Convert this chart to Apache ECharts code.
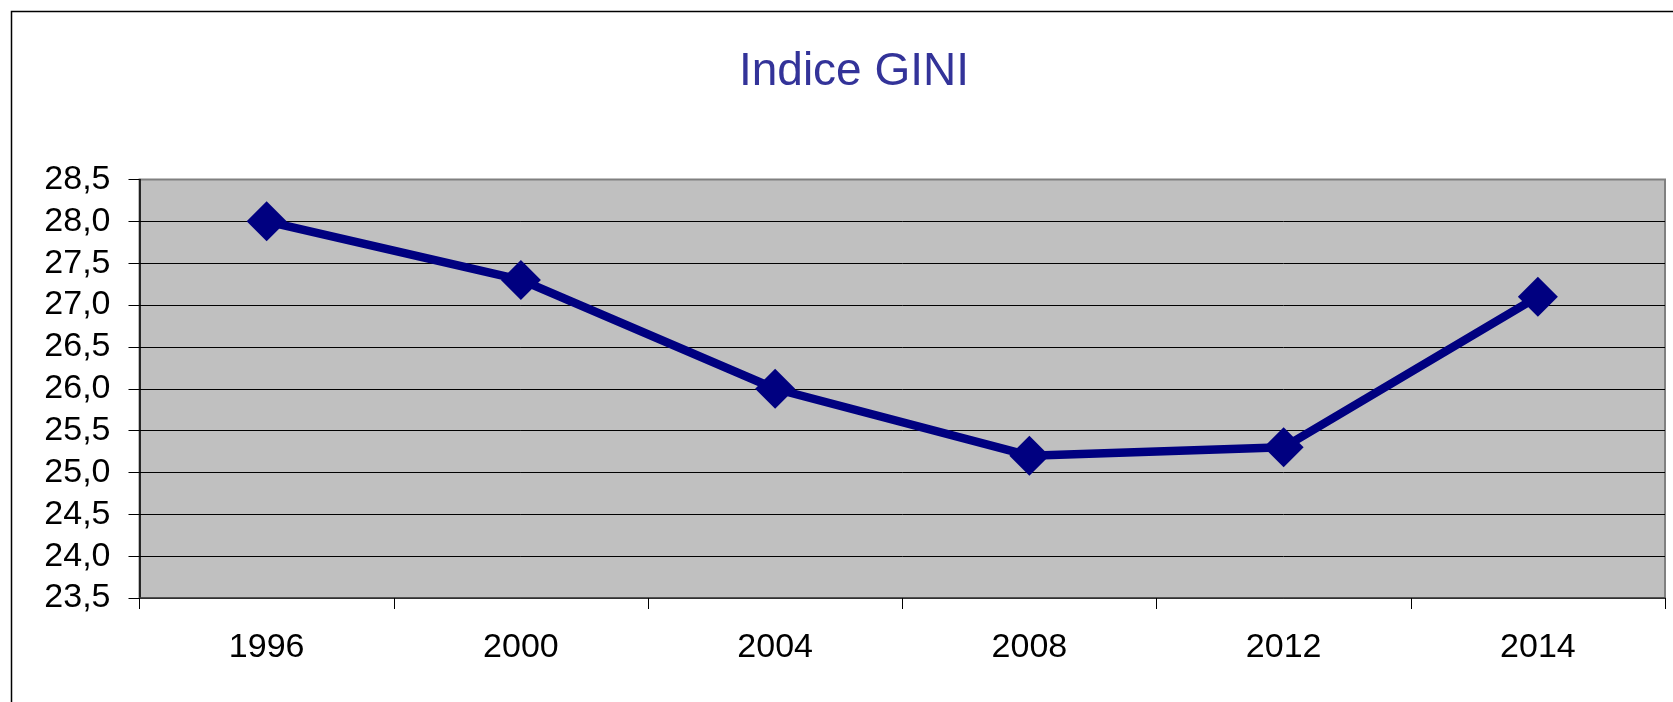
<!DOCTYPE html>
<html>
<head>
<meta charset="utf-8">
<script src="https://cdn.jsdelivr.net/npm/echarts@6/dist/echarts.min.js"></script>
<style>
  html, body { margin: 0; padding: 0; background: #fff; }
  #main { width: 1673px; height: 702px; }
</style>
</head>
<body>
<div id="main"></div>
<script>
var years = ['1996', '2000', '2004', '2008', '2012', '2014'];
var gini = [28.0, 27.3, 26.0, 25.2, 25.3, 27.1];
var yMin = 23.5, yMax = 28.5, yStep = 0.5;

// gridlines black, except the top one which sits on the grey plot border
var gridColors = [];
for (var i = 0; i < 10; i++) gridColors.push('#000');
gridColors.push('#808080');

var myChart = echarts.init(document.getElementById('main'));
// Gini index line chart
myChart.setOption({
  animation: false,
  textStyle: { fontFamily: 'Liberation Sans, Arial, sans-serif' },
  title: {
    text: 'Indice GINI',
    left: 849,
    textAlign: 'center',
    top: 44,
    textStyle: { color: '#333399', fontSize: 46, fontWeight: 'normal', fontFamily: 'Liberation Sans, Arial, sans-serif' }
  },
  graphic: [{
    type: 'rect',
    shape: { x: 11.5, y: 11.5, width: 1700, height: 800 },
    style: { fill: 'none', stroke: '#000', lineWidth: 1.5 },
    silent: true
  }],
  grid: {
    left: 139.5, top: 179.5, right: 8, bottom: 104,
    show: true,
    backgroundColor: '#c0c0c0',
    borderColor: '#808080',
    borderWidth: 2
  },
  xAxis: {
    type: 'category',
    data: years,
    boundaryGap: true,
    axisLine: { lineStyle: { color: '#404040', width: 1.5 } },
    axisTick: { show: true, alignWithLabel: false, length: 11, lineStyle: { color: '#000' } },
    axisLabel: { color: '#000', fontSize: 34, margin: 33 },
    splitLine: { show: false }
  },
  yAxis: {
    type: 'value',
    min: yMin, max: yMax, interval: yStep,
    axisLine: { show: true, lineStyle: { color: '#000', width: 1.5 } },
    axisTick: { show: true, length: 11, lineStyle: { color: '#000' } },
    axisLabel: {
      color: '#000', fontSize: 34, margin: 29,
      formatter: function (v) { return v.toFixed(1).replace('.', ','); }
    },
    splitLine: { show: true, lineStyle: { color: gridColors, width: 1 } }
  },
  series: [{
    name: 'Indice GINI',
    type: 'line',
    data: gini,
    symbol: 'diamond',
    symbolSize: [40, 40],
    itemStyle: { color: '#000080' },
    lineStyle: { color: '#000080', width: 8.5 }
  }]
});
</script>
</body>
</html>
